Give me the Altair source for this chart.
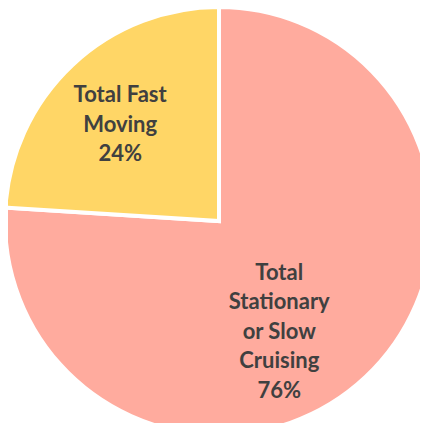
import altair as alt
import pandas as pd

categories = ["Total Stationary or Slow Cruising", "Total Fast Moving"]
labels = ["Total\nStationary\nor Slow\nCruising\n76%", "Total Fast\nMoving\n24%"]
values = [76, 24]
order = [1, 2]
colors = ["#FFAB9E", "#FFD666"]

df = pd.DataFrame({"category": categories, "label": labels, "value": values, "order": order})

CX, CY, R = 211, 213, 214
LH = 29.5

pie = alt.Chart(df).mark_arc(outerRadius=R, stroke="white", strokeWidth=4).encode(
    theta=alt.Theta("value:Q", stack=True),
    order=alt.Order("order:Q"),
    color=alt.Color("category:N", scale=alt.Scale(domain=categories, range=colors), legend=None),
    x=alt.value(CX), y=alt.value(CY),
)

text_style = dict(font="Lato", fontWeight="bold", fontSize=22, lineHeight=LH,
                  lineBreak="\n", color="#404040", align="center", baseline="middle")


def label_layer(which, radius, dx, dy):
    return alt.Chart(df).transform_joinaggregate(total="sum(value)").transform_window(
        cum="sum(value)", sort=[alt.SortField("order")]
    ).transform_calculate(
        mid="(datum.cum - datum.value / 2) / datum.total * 2 * PI"
    ).transform_filter(alt.datum.order == which).mark_text(
        radius=radius, dx=dx, dy=dy, **text_style
    ).encode(
        theta=alt.Theta("mid:Q", scale=None), text="label:N",
        x=alt.value(CX), y=alt.value(CY),
    )


t_slow = label_layer(1, 126, -26, 19 - 2 * LH)
t_fast = label_layer(2, 140, -3, 6 - LH)

chart = alt.layer(pie, t_slow, t_fast).properties(
    width=412, height=415, padding=0,
    autosize=alt.AutoSizeParams(type="none"),
).configure_view(stroke=None)

chart.save("out.html", embed_options={"renderer": "svg", "actions": False})
